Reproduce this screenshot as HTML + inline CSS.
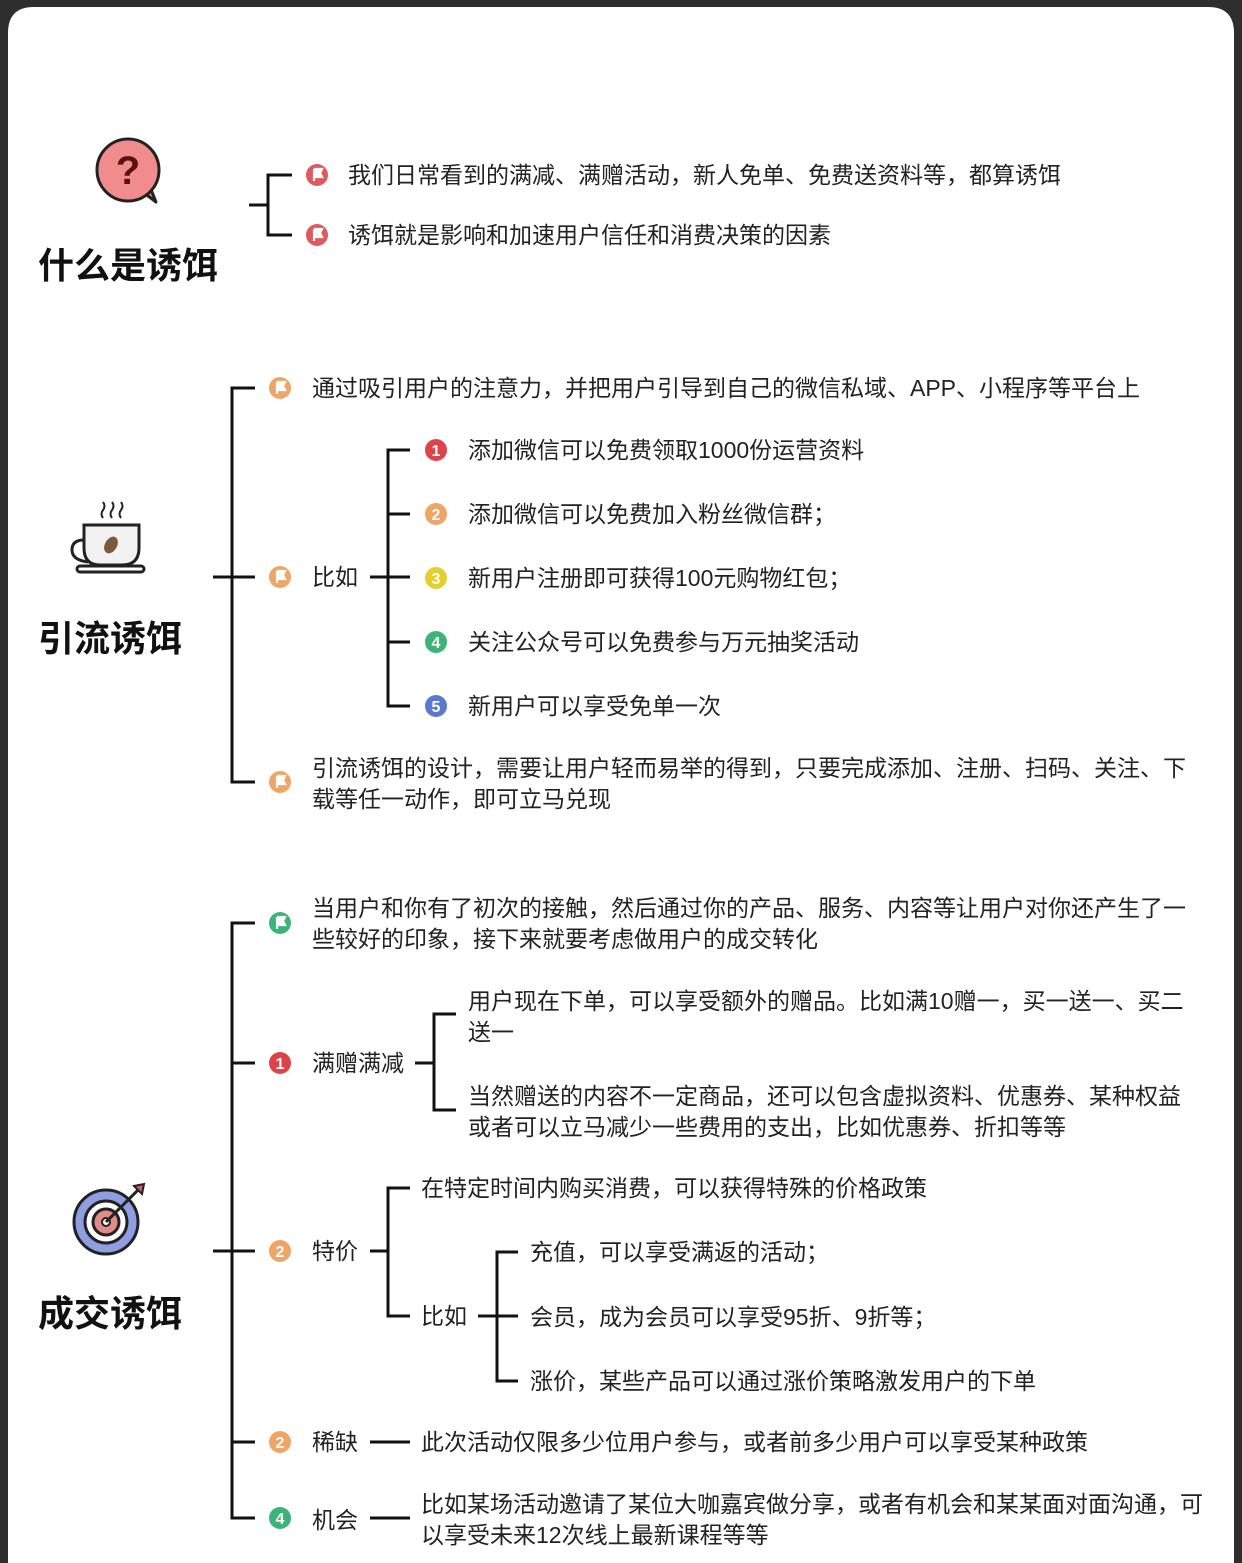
<!DOCTYPE html>
<html><head><meta charset="utf-8"><style>
html,body{margin:0;padding:0;background:#fff;}
svg{display:block;}
text{font-family:"Liberation Sans","Noto Sans CJK SC",sans-serif;fill:#222;font-size:23px;}
.t{font-size:36px;font-weight:bold;fill:#111;}
.ic{fill:#fff;font-size:16px;font-weight:bold;}
</style></head><body>
<svg width="1242" height="1563" viewBox="0 0 1242 1563" xmlns="http://www.w3.org/2000/svg">
<rect x="0" y="0" width="1242" height="1563" fill="#2e2e2e"/>
<path d="M8 1563 V33 Q8 7 34 7 H1208 Q1234 7 1234 33 V1563 Z" fill="#fff"/>
<defs>
<g id="flag"><path d="M-4 -6 V6 M-4 -6 H4 L2 -2 L4 2 H-4" stroke="#fff" stroke-width="2.2" fill="#fff"/></g>
</defs>
<g stroke="#111" stroke-width="3" fill="none">
<path d="M249 205 H268 M292 175 H268 V235 H292"/>
<path d="M255 388 H232 V782 H255 M213 577 H255"/>
<path d="M370 577 H410 M410 450 H388 V706 H410 M388 514 H410 M388 642 H410"/>
<path d="M255 923 H232 V1518 H255 M213 1251 H255 M232 1063 H255 M232 1442 H255"/>
<path d="M415 1063 H434 M456 1014 H434 V1110 H456"/>
<path d="M370 1251 H388 M410 1188 H388 V1316 H410"/>
<path d="M478 1316 H518 M518 1252 H497 V1381 H518"/>
<path d="M370 1442 H410 M370 1518 H410"/>
</g>
<g>
<path d="M143 192 L156 202 L148 182 Z" fill="#f08c8c" stroke="#222" stroke-width="3" stroke-linejoin="round"/>
<circle cx="128" cy="170" r="31" fill="#f08c8c" stroke="#222" stroke-width="3"/>
<text x="128" y="184" text-anchor="middle" style="font-size:40px;font-weight:bold;fill:#5a1010">?</text>
</g>
<text class="t" x="38" y="278">什么是诱饵</text>
<g stroke="#222" stroke-width="3" fill="#f2f2f2">
<path d="M84 540 Q72 540 72 550 Q72 560 88 562" fill="none"/>
<path d="M84 525 H139 V548 Q139 565 122 565 H100 Q84 565 84 548 Z"/>
<rect x="77" y="566" width="67" height="6" rx="3" fill="#fff"/>
<path d="M103 518 q-3 -4 0 -8 q3 -4 0 -8 M112 518 q-3 -4 0 -8 q3 -4 0 -8 M121 518 q-3 -4 0 -8 q3 -4 0 -8" fill="none" stroke-width="2"/>
</g>
<ellipse cx="111" cy="545" rx="6" ry="9" transform="rotate(30 111 545)" fill="#7a5a3a"/>
<text class="t" x="38" y="651">引流诱饵</text>
<g stroke="#222" stroke-width="3">
<circle cx="106" cy="1222" r="32" fill="#8e9ee0"/>
<circle cx="106" cy="1222" r="21" fill="#fff"/>
<circle cx="106" cy="1222" r="13" fill="#e08a8a"/>
<circle cx="106" cy="1222" r="4" fill="#fff" stroke-width="2"/>
<path d="M106 1222 L140 1188" fill="none"/>
<path d="M134 1186 L144 1184 L142 1194 Z" fill="#d06060" stroke-width="2"/>
</g>
<text class="t" x="38" y="1326">成交诱饵</text>

<g>
<circle cx="317" cy="175" r="11" fill="#de5a5e"/><use href="#flag" x="318" y="175"/>
<circle cx="317" cy="235" r="11" fill="#de5a5e"/><use href="#flag" x="318" y="235"/>
<circle cx="280" cy="388" r="11" fill="#eea566"/><use href="#flag" x="281" y="388"/>
<circle cx="280" cy="577" r="11" fill="#eea566"/><use href="#flag" x="281" y="577"/>
<circle cx="280" cy="782" r="11" fill="#eea566"/><use href="#flag" x="281" y="782"/>
<circle cx="436" cy="450" r="11" fill="#dd4449"/><text class="ic" x="436" y="456" text-anchor="middle">1</text>
<circle cx="436" cy="514" r="11" fill="#eea566"/><text class="ic" x="436" y="520" text-anchor="middle">2</text>
<circle cx="436" cy="578" r="11" fill="#e4cf2e"/><text class="ic" x="436" y="584" text-anchor="middle">3</text>
<circle cx="436" cy="642" r="11" fill="#3cb377"/><text class="ic" x="436" y="648" text-anchor="middle">4</text>
<circle cx="436" cy="706" r="11" fill="#5b78cf"/><text class="ic" x="436" y="712" text-anchor="middle">5</text>
<circle cx="280" cy="923" r="11" fill="#3cb377"/><use href="#flag" x="281" y="923"/>
<circle cx="280" cy="1063" r="11" fill="#dd4449"/><text class="ic" x="280" y="1069" text-anchor="middle">1</text>
<circle cx="280" cy="1251" r="11" fill="#eea566"/><text class="ic" x="280" y="1257" text-anchor="middle">2</text>
<circle cx="280" cy="1442" r="11" fill="#eea566"/><text class="ic" x="280" y="1448" text-anchor="middle">2</text>
<circle cx="280" cy="1518" r="11" fill="#3cb377"/><text class="ic" x="280" y="1524" text-anchor="middle">4</text>
</g>

<text x="348" y="183">我们日常看到的满减、满赠活动，新人免单、免费送资料等，都算诱饵</text>
<text x="348" y="243">诱饵就是影响和加速用户信任和消费决策的因素</text>
<text x="312" y="396">通过吸引用户的注意力，并把用户引导到自己的微信私域、APP、小程序等平台上</text>
<text x="312" y="585">比如</text>
<text x="468" y="458">添加微信可以免费领取1000份运营资料</text>
<text x="468" y="522">添加微信可以免费加入粉丝微信群；</text>
<text x="468" y="586">新用户注册即可获得100元购物红包；</text>
<text x="468" y="650">关注公众号可以免费参与万元抽奖活动</text>
<text x="468" y="714">新用户可以享受免单一次</text>
<text x="312" y="776">引流诱饵的设计，需要让用户轻而易举的得到，只要完成添加、注册、扫码、关注、下</text>
<text x="312" y="807">载等任一动作，即可立马兑现</text>
<text x="312" y="916">当用户和你有了初次的接触，然后通过你的产品、服务、内容等让用户对你还产生了一</text>
<text x="312" y="947">些较好的印象，接下来就要考虑做用户的成交转化</text>
<text x="312" y="1071">满赠满减</text>
<text x="468" y="1009">用户现在下单，可以享受额外的赠品。比如满10赠一，买一送一、买二</text>
<text x="468" y="1040">送一</text>
<text x="468" y="1104">当然赠送的内容不一定商品，还可以包含虚拟资料、优惠券、某种权益</text>
<text x="468" y="1135">或者可以立马减少一些费用的支出，比如优惠券、折扣等等</text>
<text x="312" y="1259">特价</text>
<text x="421" y="1196">在特定时间内购买消费，可以获得特殊的价格政策</text>
<text x="421" y="1324">比如</text>
<text x="530" y="1260">充值，可以享受满返的活动；</text>
<text x="530" y="1325">会员，成为会员可以享受95折、9折等；</text>
<text x="530" y="1389">涨价，某些产品可以通过涨价策略激发用户的下单</text>
<text x="312" y="1450">稀缺</text>
<text x="421" y="1450">此次活动仅限多少位用户参与，或者前多少用户可以享受某种政策</text>
<text x="312" y="1528">机会</text>
<text x="421" y="1512">比如某场活动邀请了某位大咖嘉宾做分享，或者有机会和某某面对面沟通，可</text>
<text x="421" y="1543">以享受未来12次线上最新课程等等</text>
</svg>
</body></html>
